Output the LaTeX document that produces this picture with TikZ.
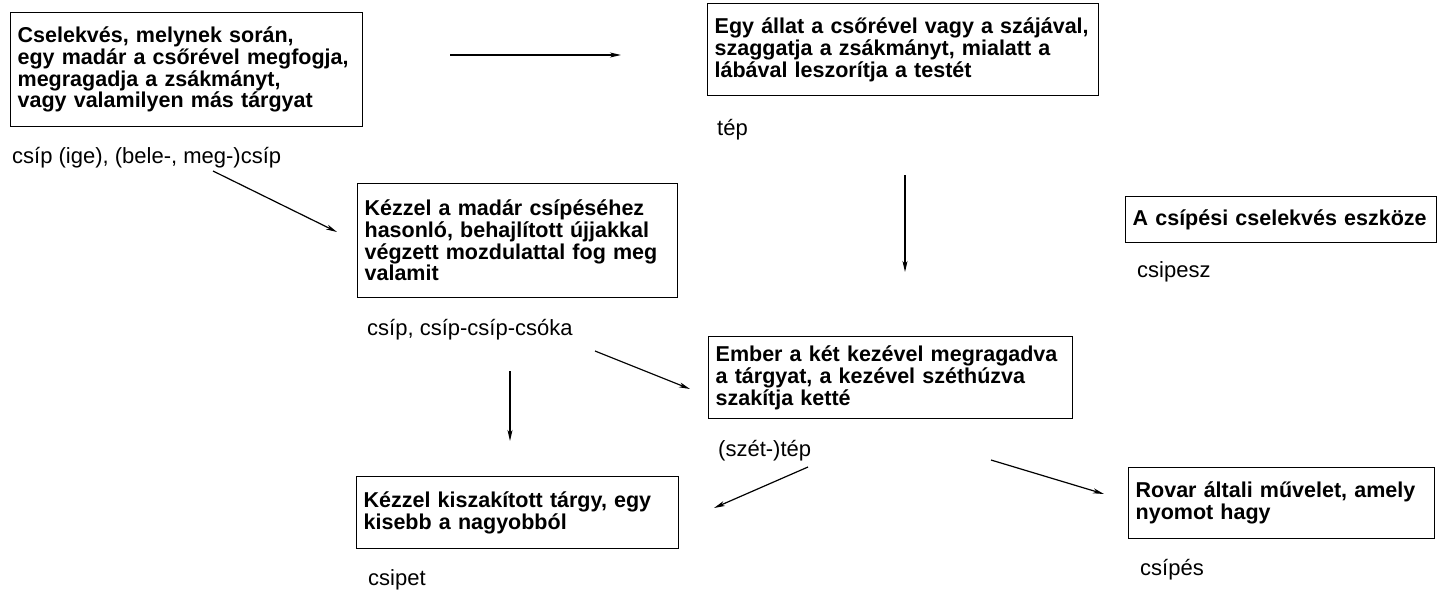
\documentclass[tikz,border=0pt]{standalone}
\usepackage{fontspec}
\setmainfont{Liberation Sans}
\usetikzlibrary{arrows.meta}
\hyphenpenalty=10000\relax
\tikzset{
  box/.style={draw, line width=1.3pt, anchor=north west, inner xsep=7pt, inner ysep=0pt, align=left,
    font=\fontsize{21.5}{21.7}\selectfont\bfseries},
  lbl/.style={anchor=base west, inner sep=0pt, font=\fontsize{22}{22}\selectfont},
  arr/.style={line width=1.2pt, -{Stealth[length=11pt,width=5pt,inset=3pt]}}
}
\begin{document}
\begin{tikzpicture}[x=1pt,y=-1pt]
\useasboundingbox (0,0) rectangle (1437,589);
% boxes
\node[box, text width=338pt, minimum height=114pt] (b1) at (10,12)
  {Cselekvés, melynek során,\\egy madár a csőrével megfogja,\\megragadja a zsákmányt,\\vagy valamilyen más tárgyat};
\node[box, text width=377pt, minimum height=92pt] (b2) at (707,3)
  {Egy állat a csőrével vagy a szájával,\\szaggatja a zsákmányt, mialatt a\\lábával leszorítja a testét};
\node[box, text width=306pt, minimum height=114pt] (b3) at (357,183)
  {Kézzel a madár csípéséhez\\hasonló, behajlított újjakkal\\végzett mozdulattal fog meg\\valamit};
\node[box, text width=350pt, minimum height=82pt] (b4) at (708,336)
  {Ember a két kezével megragadva\\a tárgyat, a kezével széthúzva\\szakítja ketté};
\node[box, text width=297pt, minimum height=46pt] (b5) at (1125,196)
  {A csípési cselekvés eszköze};
\node[box, text width=292pt, minimum height=71pt] (b6) at (1128,467)
  {Rovar általi művelet, amely\\nyomot hagy};
\node[box, text width=308pt, minimum height=72pt] (b7) at (356,476)
  {Kézzel kiszakított tárgy, egy\\kisebb a nagyobból};
% labels
\node[lbl] (l1) at (12,163) {csíp (ige), (bele-, meg-)csíp};
\node[lbl] (l2) at (717,135) {tép};
\node[lbl] (l3) at (367,335) {csíp, csíp-csíp-csóka};
\node[lbl] (l4) at (718,456) {(szét-)tép};
\node[lbl] (l5) at (1137,277) {csipesz};
\node[lbl] (l6) at (1140,575) {csípés};
\node[lbl] (l7) at (368,585) {csipet};
% arrow end points
\coordinate (a1s) at (450,55);  \coordinate (a1e) at (621,55);
\coordinate (a2s) at (213,171); \coordinate (a2e) at (337,232);
\coordinate (a3s) at (905,175); \coordinate (a3e) at (905,272);
\coordinate (a4s) at (510,371); \coordinate (a4e) at (510,441);
\coordinate (a5s) at (595,351); \coordinate (a5e) at (690,389);
\coordinate (a6s) at (808,467); \coordinate (a6e) at (714,508);
\coordinate (a7s) at (991,460); \coordinate (a7e) at (1104,494);
\draw[arr] (a1s) -- (a1e);
\draw[arr] (a2s) -- (a2e);
\draw[arr] (a3s) -- (a3e);
\draw[arr] (a4s) -- (a4e);
\draw[arr] (a5s) -- (a5e);
\draw[arr] (a6s) -- (a6e);
\draw[arr] (a7s) -- (a7e);
\end{tikzpicture}
\end{document}
